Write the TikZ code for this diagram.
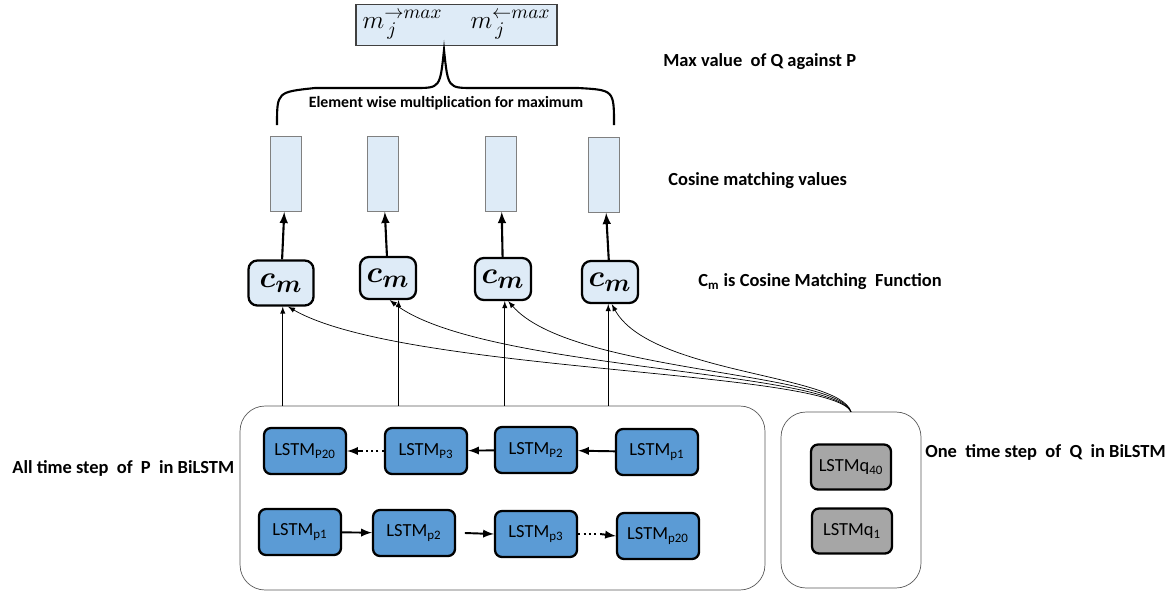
\documentclass[tikz,border=0pt]{standalone}
\usepackage{fontspec}
\usepackage{amsmath}
\setmainfont{Carlito}
\usetikzlibrary{positioning}
\definecolor{cellblue}{RGB}{222,235,247}
\definecolor{lstmblue}{RGB}{91,155,213}
\definecolor{lstmgray}{RGB}{166,166,166}
\definecolor{framegray}{RGB}{89,89,89}
\begin{document}
\begin{tikzpicture}[x=0.02cm, y=-0.02cm, >=latex, every node/.style={align=center},
  lstmp/.style={draw,line width=1.3pt,rounded corners=4pt,fill=lstmblue,minimum width=1.64cm,minimum height=0.92cm,inner sep=1pt,font=\fontsize{10.5}{12}\selectfont},
  lstmq/.style={lstmp,fill=lstmgray,minimum width=1.6cm,minimum height=0.9cm},
  cmbox/.style={draw,line width=1.3pt,rounded corners=5pt,fill=cellblue,minimum width=1.12cm,minimum height=0.84cm,inner sep=1pt,font=\fontsize{19}{19}\selectfont},
  valbox/.style={draw=gray,fill=cellblue,minimum width=0.62cm,minimum height=1.5cm},
  frame/.style={draw=framegray,rounded corners=0.5cm},
  note/.style={anchor=west,inner sep=0pt,font=\bfseries\fontsize{10.5}{12}\selectfont},
  link/.style={->,line width=1.1pt}]
  \useasboundingbox (0,0) rectangle (1168,592);
  % containers
  \node[frame,minimum width=10.5cm,minimum height=3.68cm] (pframe) at (502.5,498) {};
  \node[frame,minimum width=2.8cm,minimum height=3.52cm] (qframe) at (851,500) {};
  % backward P row
  \node[lstmp] (pb20) at (305,451) {LSTM\textsubscript{P20}};
  \node[lstmp] (pb3) at (426,451) {LSTM\textsubscript{P3}};
  \node[lstmp] (pb2) at (536,450) {LSTM\textsubscript{P2}};
  \node[lstmp] (pb1) at (657,452) {LSTM\textsubscript{p1}};
  % forward P row
  \node[lstmp] (pf1) at (300,532) {LSTM\textsubscript{p1}};
  \node[lstmp] (pf2) at (414,533) {LSTM\textsubscript{p2}};
  \node[lstmp] (pf3) at (536,534) {LSTM\textsubscript{p3}};
  \node[lstmp] (pf20) at (658,536) {LSTM\textsubscript{p20}};
  % Q step
  \node[lstmq] (q40) at (851,467) {LSTMq\textsubscript{40}};
  \node[lstmq] (q1) at (852,531) {LSTMq\textsubscript{1}};
  \draw[link] (pb1) -- (pb2);
  \draw[link] (pb2) -- (pb3);
  \draw[line width=1.1pt,dotted] (pb3.west) -- ++(-22,0) coordinate (dotb);
  \draw[link] (dotb) -- (pb20.east);
  \draw[link] (pf1) -- (pf2);
  \draw[link] ([xshift=5pt]pf2.east) -- (pf3.west);
  \draw[line width=1.1pt,dotted] (pf3.east) -- ++(22,0) coordinate (dotf);
  \draw[link] (dotf) -- (pf20.west);
  % matching functions and values
  \node[cmbox,minimum width=1.3cm,minimum height=0.9cm] (cm1) at (281,283) {$\boldsymbol{c_m}$};
  \node[cmbox] (cm2) at (388,278) {$\boldsymbol{c_m}$};
  \node[cmbox] (cm3) at (503,279) {$\boldsymbol{c_m}$};
  \node[cmbox] (cm4) at (610,282) {$\boldsymbol{c_m}$};
  \node[valbox] (val1) at (286,174) {};
  \node[valbox] (val2) at (383,174) {};
  \node[valbox] (val3) at (501,174) {};
  \node[valbox] (val4) at (604,175) {};
  \foreach \i in {1,...,4}
    \draw[->,very thick] (cm\i) -- (val\i);
  \draw[->] ([xshift=1pt]cm1.south |- pframe.north) -- ([xshift=1pt]cm1.south);
  \draw[->] ([xshift=6pt]cm2.south |- pframe.north) -- ([xshift=6pt]cm2.south);
  \draw[->] ([xshift=1pt]cm3.south |- pframe.north) -- ([xshift=1pt]cm3.south);
  \draw[->] ([xshift=-1pt]cm4.south |- pframe.north) -- ([xshift=-1pt]cm4.south);
  \draw[->] (qframe.north) .. controls +(-22,-42) and +(114,66) .. ([xshift=4pt]cm1.south);
  \draw[->] (qframe.north) .. controls +(-20,-42) and +(90,70) .. ([xshift=1pt]cm2.south);
  \draw[->] (qframe.north) .. controls +(-16,-41) and +(62,72) .. ([xshift=3pt]cm3.south);
  \draw[->] (qframe.north) .. controls +(-12,-38) and +(38,70) .. ([xshift=1pt]cm4.south);
  % maximum
  \node[draw=darkgray,thick,fill=cellblue,minimum width=4.02cm,minimum height=0.8cm,inner xsep=2pt,font=\fontsize{15}{15}\selectfont] (maxbox) at (456.5,25) {$m_{\,j}^{\rightarrow max}\hspace{16pt} m_{\,j}^{\leftarrow max}$};
  \draw[line width=1.2pt] (277,125) .. controls (277,92) .. (315,88) -- (415,88)
    .. controls (440,88) .. (444,50) .. controls (448,88) .. (473,88) -- (578,88)
    .. controls (614,90) .. (614,125);
  \node[font=\bfseries\fontsize{9}{11}\selectfont] (brlabel) at (446,103) {Element wise multiplication for maximum};
  % labels
  \node[note] (lmax) at (663,62) {Max value\ \ of Q against P};
  \node[note] (lval) at (668,181) {Cosine matching values};
  \node[note] (lcm) at (698,282) {C\textsubscript{m} is Cosine Matching\ \ Function};
  \node[note] (lp) at (12,468) {All time step\ \ of\ \ P\ \ in BiLSTM};
  \node[note] (lq) at (925,452) {One\ \ time step\ \ of\ \ Q\ \ in BiLSTM};
\end{tikzpicture}
\end{document}
